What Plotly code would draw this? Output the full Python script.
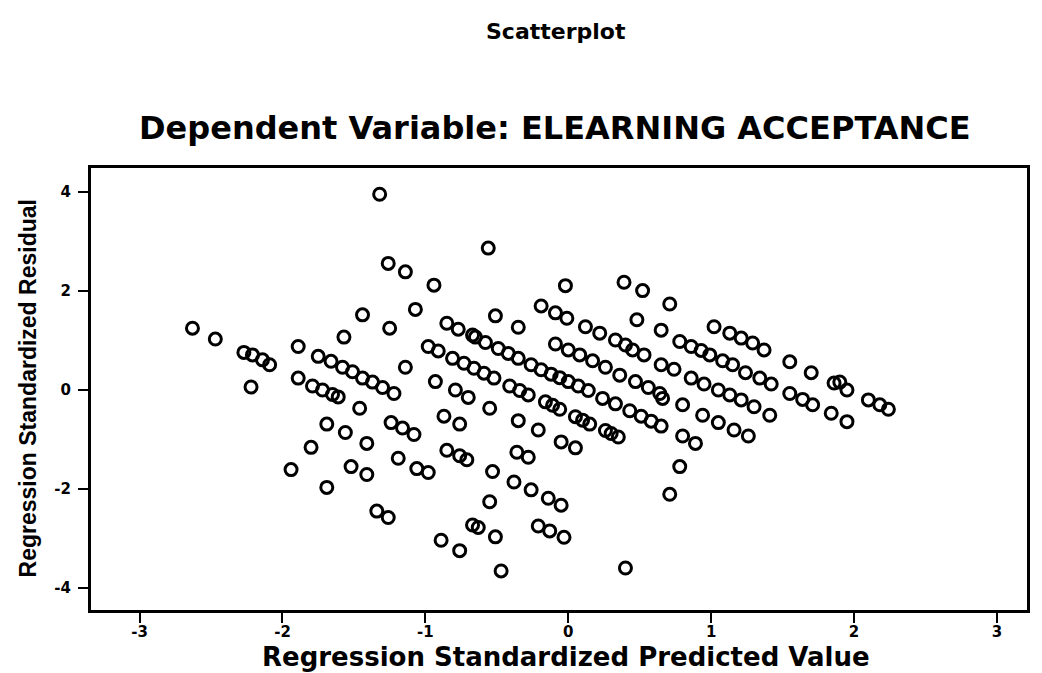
import plotly.graph_objects as go

# Regression Standardized Predicted Value
pred = [
    -1.32, -0.56, -1.26, -1.14, -0.94, -0.02, 0.39, 0.52, 0.71, -1.07,
    -1.44, -0.51, -0.19, -0.09, -0.01, -0.35, 0.48, -1.25, -1.57, -2.63,
    -2.47, -1.89, -2.27, -2.21, -2.14, -2.09, -1.75, -1.66, -1.58, -1.51,
    -1.44, -1.37, -1.30, -1.22, -1.14, -1.89, -1.79, -1.72, -1.65, -1.61,
    -2.22, -0.85, -0.77, -0.67, -0.98, -0.91, -0.81, -0.73, -0.66, -0.93,
    -0.79, -0.70, -1.46, -0.87, -0.76, -1.69, -1.56, -1.24, -1.16, -1.08,
    -1.41, -1.80, -0.85, -0.76, -0.71, -1.19, -1.94, -1.52, -1.41, -1.06,
    -0.98, -1.69, -1.34, -1.26,
    0.12, 0.22, 0.33, 0.40, 0.45, 0.53, 0.65, -0.09, 0.00, 0.08,
    0.17, 0.26, 0.36, 0.47, 0.56, 0.64, 0.65, -0.65, -0.58, -0.49,
    -0.35, -0.26, -0.12, 0.00, 0.14, 0.24, 0.33, 0.43, 0.51, 0.65,
    -0.52, -0.41, -0.28, -0.16, -0.06, 0.05, 0.15, 0.26, 0.35, -0.55,
    -0.35, -0.21, -0.05, 0.05, -0.36, -0.28, -0.53,
    0.78, -0.38, -0.26, -0.14, -0.05, -0.55, 0.71, -0.67, -0.63, -0.21,
    -0.13, -0.03, -0.51, -0.89, -0.76, -0.47, 0.40,
    1.02, 1.13, 1.21, 1.29, 1.37, 1.55, 1.70, 1.86, 1.95, 0.78,
    0.86, 0.93, 0.99, 1.08, 1.15, 1.24, 1.34, 1.42, 0.74, 0.86,
    0.95, 1.05, 1.13, 1.21, 1.30, 1.41, 1.55, 1.64, 1.71, 1.84,
    1.95, 0.66, 0.80, 0.94, 1.05, 1.16, 1.26, 0.80, 0.89, 1.90,
    2.10, 2.18, 2.24,
    -0.42, -0.19, -0.06, 0.07, 0.58, -0.59, -0.34, -0.11, 0.10, 0.30,
]

# Regression Standardized Residual
resid = [
    3.96, 2.87, 2.56, 2.39, 2.12, 2.11, 2.18, 2.01, 1.74, 1.63,
    1.52, 1.50, 1.70, 1.56, 1.45, 1.27, 1.42, 1.25, 1.07, 1.25,
    1.03, 0.88, 0.76, 0.71, 0.61, 0.51, 0.68, 0.58, 0.46, 0.37,
    0.24, 0.16, 0.05, -0.07, 0.46, 0.24, 0.08, 0.00, -0.09, -0.14,
    0.06, 1.35, 1.23, 1.11, 0.88, 0.79, 0.64, 0.54, 0.44, 0.17,
    0.00, -0.15, -0.37, -0.53, -0.69, -0.69, -0.86, -0.66, -0.77, -0.90,
    -1.08, -1.16, -1.22, -1.33, -1.41, -1.38, -1.61, -1.55, -1.71, -1.59,
    -1.67, -1.97, -2.45, -2.58,
    1.28, 1.15, 1.01, 0.91, 0.81, 0.71, 1.21, 0.93, 0.81, 0.71,
    0.59, 0.46, 0.30, 0.17, 0.05, -0.07, 0.51, 1.07, 0.96, 0.84,
    0.64, 0.51, 0.32, 0.17, -0.01, -0.17, -0.28, -0.42, -0.53, -0.73,
    0.24, 0.08, -0.10, -0.24, -0.39, -0.54, -0.69, -0.82, -0.95, -0.37,
    -0.62, -0.81, -1.05, -1.17, -1.26, -1.36, -1.65,
    -1.55, -1.86, -2.02, -2.19, -2.33, -2.26, -2.11, -2.73, -2.78, -2.75,
    -2.85, -2.98, -2.97, -3.04, -3.25, -3.66, -3.60,
    1.28, 1.15, 1.05, 0.95, 0.81, 0.57, 0.35, 0.14, 0.00, 0.98,
    0.88, 0.80, 0.71, 0.59, 0.51, 0.35, 0.24, 0.12, 0.42, 0.24,
    0.12, 0.00, -0.10, -0.20, -0.34, -0.51, -0.07, -0.19, -0.30, -0.47,
    -0.64, -0.17, -0.30, -0.51, -0.66, -0.81, -0.93, -0.93, -1.08, 0.16,
    -0.20, -0.30, -0.39,
    0.74, 0.41, 0.25, 0.08, -0.63, 0.34, -0.01, -0.31, -0.61, -0.88,
]

x_ticks = [-3, -2, -1, 0, 1, 2, 3]
x_tick_text = ["-3", "-2", "-1", "0", "1", "2", "3"]
y_ticks = [-4, -2, 0, 2, 4]
y_tick_text = ["-4", "-2", "0", "2", "4"]

title_text = "Scatterplot"
subtitle_text = "Dependent Variable: ELEARNING ACCEPTANCE"
x_title = "Regression Standardized Predicted Value"
y_title = "Regression Standardized Residual"

WIDE = "DejaVu Sans, Verdana, sans-serif"
ARIAL = "Liberation Sans, Arial, sans-serif"

fig = go.Figure()
fig.add_trace(go.Scatter(
    x=pred, y=resid, mode="markers",
    marker=dict(symbol="circle-open", size=12, color="black",
                line=dict(width=3, color="black")),
    hoverinfo="x+y", showlegend=False,
))

axis_common = dict(
    showgrid=False, zeroline=False, showline=True, mirror=True,
    linecolor="black", linewidth=3, ticks="outside", ticklen=10,
    tickwidth=2, tickcolor="black",
    tickfont=dict(family=WIDE, size=15, color="black", weight="bold"),
)

fig.update_layout(
    width=1034, height=665,
    margin=dict(l=83, r=12, t=160, b=63),
    paper_bgcolor="white", plot_bgcolor="white",
    xaxis=dict(range=[-3.34, 3.21], tickvals=x_ticks, ticktext=x_tick_text,
               ticklabelstandoff=-4, **axis_common),
    yaxis=dict(range=[-4.45, 4.49], tickvals=y_ticks, ticktext=y_tick_text,
               ticklabelstandoff=4, **axis_common),
    annotations=[
        dict(text="<b>" + title_text + "</b>", xref="paper", yref="paper",
             x=0.497, y=1.308, showarrow=False, xanchor="center", yanchor="middle",
             font=dict(family=WIDE, size=22, color="black")),
        dict(text="<b>" + subtitle_text + "</b>", xref="paper", yref="paper",
             x=0.496, y=1.09, showarrow=False, xanchor="center", yanchor="middle",
             font=dict(family=WIDE, size=32, color="black")),
        dict(text="<b>" + x_title + "</b>", xref="paper", yref="paper",
             x=0.507, y=-0.106, showarrow=False, xanchor="center", yanchor="middle",
             font=dict(family=WIDE, size=26, color="black")),
        dict(text="<b>" + y_title + "</b>", xref="paper", yref="paper",
             x=-0.067, y=0.502, showarrow=False, xanchor="center", yanchor="middle",
             textangle=-90,
             font=dict(family=ARIAL, size=23, color="black")),
    ],
)

fig.write_html("out.html")
